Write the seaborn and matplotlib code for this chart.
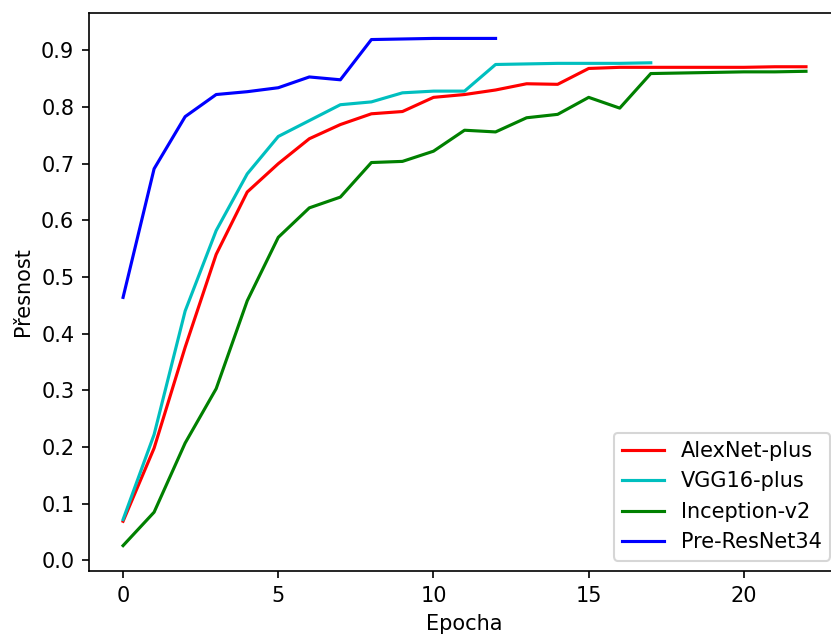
import pandas as pd
import matplotlib
matplotlib.use("Agg")
import matplotlib.pyplot as plt
from matplotlib.ticker import MultipleLocator
import seaborn as sns

# accuracy per epoch
alexnet = [0.069, 0.198, 0.376, 0.540, 0.650, 0.700, 0.744, 0.769, 0.788, 0.792,
           0.817, 0.822, 0.830, 0.841, 0.840, 0.868, 0.870, 0.870, 0.870, 0.870,
           0.870, 0.871, 0.871]
vgg16 = [0.072, 0.222, 0.440, 0.582, 0.682, 0.748, 0.776, 0.804, 0.809, 0.825,
         0.828, 0.828, 0.875, 0.876, 0.877, 0.877, 0.877, 0.878]
inception = [0.026, 0.085, 0.207, 0.303, 0.458, 0.570, 0.622, 0.641, 0.702, 0.704,
             0.722, 0.759, 0.756, 0.781, 0.787, 0.817, 0.798, 0.859, 0.860, 0.861,
             0.862, 0.862, 0.863]
preresnet = [0.464, 0.691, 0.783, 0.822, 0.827, 0.834, 0.853, 0.848, 0.919, 0.920,
             0.921, 0.921, 0.921]

models = ["AlexNet-plus", "VGG16-plus", "Inception-v2", "Pre-ResNet34"]
colors = ["r", "c", "g", "b"]

frames = []
for name, vals in zip(models, [alexnet, vgg16, inception, preresnet]):
    frames.append(pd.DataFrame({"Epocha": range(len(vals)), "Přesnost": vals, "model": name}))
df = pd.concat(frames, ignore_index=True)

DPI = 150
fig = plt.figure(figsize=(831 / DPI, 634 / DPI), dpi=DPI)
# right spine sits just past the image edge, like in the reference crop
ax = fig.add_axes([0.107, 0.0994, 0.904, 0.88])

sns.lineplot(data=df, x="Epocha", y="Přesnost", hue="model", hue_order=models,
             palette=dict(zip(models, colors)), linewidth=1.5, ax=ax)

ax.yaxis.set_major_locator(MultipleLocator(0.1))
ax.legend(loc="lower right")
ax.set_xlabel("Epocha")
ax.set_ylabel("Přesnost")

fig.savefig("out.png", dpi=DPI)
